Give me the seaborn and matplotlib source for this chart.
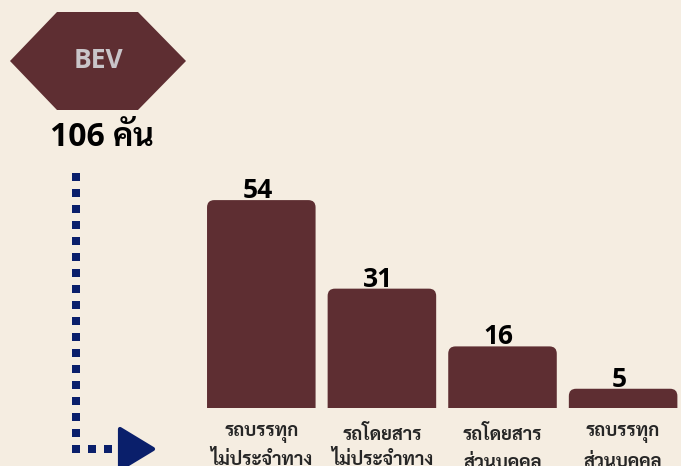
import matplotlib
matplotlib.use("Agg")
import matplotlib.pyplot as plt
import seaborn as sns
import numpy as np
from matplotlib import font_manager
from matplotlib.ft2font import FT2Font
from matplotlib.patches import Polygon, FancyBboxPatch

# data
categories = ["รถบรรทุก\nไม่ประจำทาง", "รถโดยสาร\nไม่ประจำทาง",
              "รถโดยสาร\nส่วนบุคคล", "รถบรรทุก\nส่วนบุคคล"]
values = [54, 31, 16, 5]
badge_label = "BEV"
total_label = "106 คัน"

bg = "#F5EDE1"
bar_color = "#5E2E32"
navy = "#0A1F6B"


def bold_families(need_thai):
    out = set()
    for f in font_manager.fontManager.ttflist:
        if f.weight not in (700, "bold") or f.style != "normal":
            continue
        if need_thai:
            try:
                if ord("ก") not in FT2Font(f.fname).get_charmap():
                    continue
            except Exception:
                continue
        out.add(f.name)
    return out


thai_bold = bold_families(True)
latin_bold = bold_families(False)
thai = next((n for n in ["Noto Sans Thai Looped", "Noto Sans Thai", "Sarabun",
                         "IBM Plex Sans Thai Looped", "Athiti", "Bai Jamjuree"]
             if n in thai_bold), sorted(thai_bold)[0] if thai_bold else "DejaVu Sans")
latin = next((n for n in ["Noto Sans", "Open Sans", "Lato", "Roboto"] if n in latin_bold),
             "DejaVu Sans")
fonts = [latin, thai, "DejaVu Sans"]

sns.set_style("white")
plt.rcParams["font.family"] = fonts

fig = plt.figure(figsize=(6.81, 4.66), dpi=100)
fig.patch.set_facecolor(bg)

# overlay in pixel coords for decorations
ov = fig.add_axes([0, 0, 1, 1], zorder=0)
ov.set_xlim(0, 681)
ov.set_ylim(466, 0)
ov.axis("off")
ov.patch.set_alpha(0)

hexagon = Polygon([(10, 61), (57, 12), (138, 12), (186, 61), (138, 110), (57, 110)],
                  closed=True, fc=bar_color, ec="none")
ov.add_patch(hexagon)
ov.text(98, 61, badge_label, ha="center", va="center", color="#C9C5C9",
        fontsize=19, fontweight="bold", family=fonts)
ov.text(102, 137, total_label, ha="center", va="center", color="black",
        fontsize=23, fontweight="bold", family=fonts)

# dotted arrow
ys = np.arange(177, 450, 16)
ov.scatter(np.full(len(ys), 76), ys, marker="s", s=26, color=navy, lw=0)
ov.scatter([92, 108], [449, 449], marker="s", s=26, color=navy, lw=0)
tri = Polygon([(120, 429), (120, 469), (153, 449)], closed=True, fc=navy, ec=navy,
              lw=3, joinstyle="round")
ov.add_patch(tri)

# bar chart
ax = fig.add_axes([201 / 681, 58 / 466, 480 / 681, 231 / 466], zorder=1)
ax.patch.set_alpha(0)
sns.barplot(x=categories, y=values, color=bar_color, width=0.9, saturation=1, ax=ax)
ax.set_xlim(-0.5, 3.48)
ax.set_ylim(0, 60)

for p, v in zip(list(ax.patches), values):
    x, w, h = p.get_x(), p.get_width(), p.get_height()
    p.remove()
    fb = FancyBboxPatch((x, -5), w, h + 5,
                        boxstyle="round,pad=0,rounding_size=0.06",
                        mutation_aspect=31.5, fc=bar_color, ec="none")
    ax.add_patch(fb)
    ax.text(x + w / 2 - 0.03, h + 0.5, str(v), ha="center", va="baseline",
            fontsize=19, fontweight="bold", color="black", family=fonts)

sns.despine(ax=ax, left=True, bottom=True)
ax.set_yticks([])
ax.tick_params(axis="x", length=0, pad=12)
for lbl in ax.get_xticklabels():
    lbl.set_fontweight("bold")
    lbl.set_fontsize(13.3)
    lbl.set_family(fonts)
    lbl.set_verticalalignment("top")
    lbl.set_linespacing(1.45)

fig.savefig("out.png", dpi=100, facecolor=bg)
